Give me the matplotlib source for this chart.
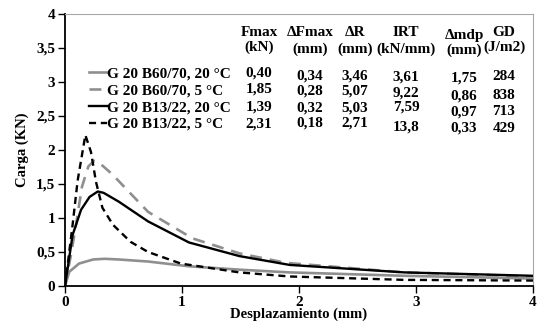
import matplotlib
matplotlib.use("Agg")
import matplotlib.pyplot as plt
from matplotlib.ticker import FixedLocator, FuncFormatter

plt.rcParams['font.family'] = ['Liberation Serif', 'DejaVu Serif']
plt.rcParams['font.weight'] = 'bold'

# ---- data ----
labels = ["G 20 B60/70, 20 °C", "G 20 B60/70, 5 °C",
          "G 20 B13/22, 20 °C", "G 20 B13/22, 5 °C"]

x_b6020 = [0, 0.037, 0.12, 0.24, 0.34, 0.46, 0.71, 1.06, 1.49, 1.92, 2.9, 4.0]
y_b6020 = [0, 0.21, 0.33, 0.39, 0.40, 0.39, 0.36, 0.29, 0.24, 0.20, 0.15, 0.11]

x_b605 = [0, 0.05, 0.094, 0.145, 0.20, 0.25, 0.30, 0.38, 0.45, 0.71, 1.09, 1.49, 1.89, 2.9, 4.0]
y_b605 = [0, 0.45, 0.90, 1.46, 1.76, 1.84, 1.80, 1.68, 1.56, 1.09, 0.70, 0.48, 0.34, 0.20, 0.14]

x_b1320 = [0, 0.065, 0.137, 0.21, 0.28, 0.33, 0.46, 0.71, 1.06, 1.49, 1.92, 2.9, 4.0]
y_b1320 = [0, 0.75, 1.12, 1.31, 1.39, 1.37, 1.24, 0.95, 0.64, 0.44, 0.31, 0.20, 0.15]

x_b135 = [0, 0.065, 0.108, 0.174, 0.222, 0.265, 0.32, 0.41, 0.56, 0.71, 0.99, 1.49, 1.92, 2.9, 4.0]
y_b135 = [0, 0.90, 1.55, 2.22, 1.97, 1.53, 1.15, 0.90, 0.65, 0.50, 0.33, 0.20, 0.14, 0.09, 0.08]

x_ticks = [0, 1, 2, 3, 4]
y_ticks = [0, 0.5, 1, 1.5, 2, 2.5, 3, 3.5, 4]

table_headers = [("Fmax", "(kN)"), ("ΔFmax", "(mm)"), ("ΔR", "(mm)"),
                 ("IRT", "(kN/mm)"), ("Δmdp", "(mm)"), ("GD", "(J/m2)")]
table_values = [
    ["0,40", "0,34", "3,46", "3,61", "1,75", "284"],
    ["1,85", "0,28", "5,07", "9,22", "0,86", "838"],
    ["1,39", "0,32", "5,03", "7,59", "0,97", "713"],
    ["2,31", "0,18", "2,71", "13,8", "0,33", "429"],
]

# ---- figure ----
W, H = 547, 325
fig = plt.figure(figsize=(W / 100, H / 100), dpi=100)
ax = fig.add_axes([65 / W, 1 - 286 / H, (533 - 65) / W, (286 - 14) / H])

gray = "#8f8f8f"
l1, = ax.plot(x_b6020, y_b6020, color=gray, lw=1.9, solid_joinstyle='round')
l2, = ax.plot(x_b605, y_b605, color=gray, lw=1.9, dashes=(4.5, 3))
l3, = ax.plot(x_b1320, y_b1320, color="black", lw=1.7, solid_joinstyle='round')
l4, = ax.plot(x_b135, y_b135, color="black", lw=1.7, dashes=(3, 2))

ax.set_xlim(0, 4)
ax.set_ylim(0, 4)
ax.xaxis.set_major_locator(FixedLocator(x_ticks))
ax.yaxis.set_major_locator(FixedLocator(y_ticks))
fmt = FuncFormatter(lambda v, p: ("%g" % v).replace(".", ","))
ax.xaxis.set_major_formatter(fmt)
ax.yaxis.set_major_formatter(fmt)
ax.tick_params(direction='out', length=5, width=1, labelsize=11, pad=2)

for s in ("left", "bottom"):
    ax.spines[s].set_linewidth(1.3)
    ax.spines[s].set_color("black")
for s in ("top", "right"):
    ax.spines[s].set_linewidth(0.8)
    ax.spines[s].set_color("#a8a8a8")

ax.set_xlabel("Desplazamiento (mm)", fontsize=10.5, fontweight='bold', labelpad=-1)
ax.set_ylabel("Carga (KN)", fontsize=10.5, fontweight='bold', labelpad=5)

def fx(px):
    return px / W

def fy(py):
    return 1 - py / H

leg = fig.legend([l1, l2, l3, l4], labels, loc='upper left',
                 bbox_to_anchor=(fx(89), fy(67)), frameon=False,
                 fontsize=11, handlelength=1.2, handletextpad=0.0,
                 labelspacing=0.2, borderpad=0, borderaxespad=0)

col_x = [259, 310, 355, 406, 464, 504]
head_y1 = [32, 33, 33, 33, 35, 32]
head_y2 = [47, 49, 49, 49, 50, 47]
row_y = [[73, 76, 76, 77, 78, 77],
         [89, 91, 91, 93, 96, 95],
         [107, 108, 108, 107, 112, 112],
         [124, 123, 123, 127, 128, 128]]

for j, (h1, h2) in enumerate(table_headers):
    fig.text(fx(col_x[j]), fy(head_y1[j]), h1, ha='center', va='center',
             fontsize=11, fontweight='bold')
    fig.text(fx(col_x[j]), fy(head_y2[j]), h2, ha='center', va='center',
             fontsize=11, fontweight='bold')
for i, row in enumerate(table_values):
    for j, v in enumerate(row):
        fig.text(fx(col_x[j]), fy(row_y[i][j]), v, ha='center', va='center',
                 fontsize=11, fontweight='bold')

fig.savefig("out.png", dpi=100)
